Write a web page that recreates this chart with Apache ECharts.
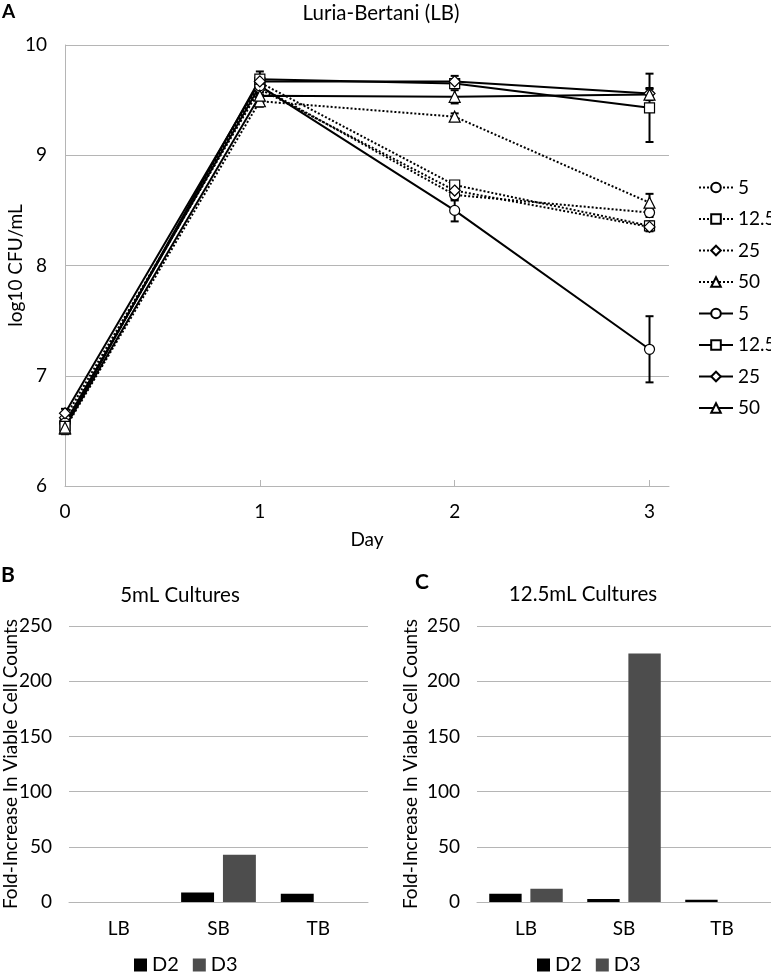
<!DOCTYPE html>
<html>
<head>
<meta charset="utf-8">
<script src="https://cdn.jsdelivr.net/npm/echarts@6/dist/echarts.min.js"></script>
<style>html,body{margin:0;padding:0;background:#fff}#c{width:771px;height:973px}</style>
</head>
<body>
<div id="c"></div>
<script>
// ---- Panel A data (log10 CFU/mL by day) ----
const days = [0, 1, 2, 3];
const dayTicks = ['0', '1', '2', '3'];
const dotted5 = [6.58, 9.62, 8.64, 8.48];
const dotted12_5 = [6.55, 9.66, 8.73, 8.36];
const dotted25 = [6.62, 9.60, 8.68, 8.35];
const dotted50 = [6.52, 9.49, 9.35, 8.57];
const solid5 = [6.57, 9.63, 8.50, 7.24];
const solid12_5 = [6.54, 9.69, 9.65, 9.43];
const solid25 = [6.66, 9.67, 9.67, 9.56];
const solid50 = [6.53, 9.54, 9.53, 9.55];
const dotted5Err = [0.04, 0.05, 0.05, 0.04];
const dotted12_5Err = [0.04, 0.05, 0.03, 0.04];
const dotted25Err = [0.04, 0.05, 0.04, 0.04];
const dotted50Err = [0.05, 0.05, 0.03, 0.08];
const solid5Err = [0.05, 0.05, 0.10, 0.30];
const solid12_5Err = [0.05, 0.07, 0.04, 0.31];
const solid25Err = [0.04, 0.05, 0.05, 0.05];
const solid50Err = [0.05, 0.05, 0.06, 0.05];
const legendLabels = ['5', '12.5', '25', '50'];

// ---- Panels B and C data (fold-increase) ----
const media = ['LB', 'SB', 'TB'];
const b_D2 = [0, 8.7, 7.5];
const b_D3 = [-1, 42.8, 0];
const c_D2 = [7.5, 2.7, 2];
const c_D3 = [12, 225, 0];

const FONT = 'Lato';
const GRID_C = '#b5b5b5';

const lineDefs = [
  {key: 'dotted|5', vals: dotted5, err: dotted5Err, sym: 'circle', type: 'dotted', size: 10},
  {key: 'dotted|12.5', vals: dotted12_5, err: dotted12_5Err, sym: 'rect', type: 'dotted', size: 10},
  {key: 'dotted|25', vals: dotted25, err: dotted25Err, sym: 'diamond', type: 'dotted', size: 11},
  {key: 'dotted|50', vals: dotted50, err: dotted50Err, sym: 'triangle', type: 'dotted', size: 11},
  {key: 'solid|5', vals: solid5, err: solid5Err, sym: 'circle', type: 'solid', size: 10},
  {key: 'solid|12.5', vals: solid12_5, err: solid12_5Err, sym: 'rect', type: 'solid', size: 10},
  {key: 'solid|25', vals: solid25, err: solid25Err, sym: 'diamond', type: 'solid', size: 11},
  {key: 'solid|50', vals: solid50, err: solid50Err, sym: 'triangle', type: 'solid', size: 11}
];

const series = [];
lineDefs.forEach(d => {
  series.push({
    type: 'custom', xAxisIndex: 0, yAxisIndex: 0, z: 1, silent: true,
    data: days.map((x, i) => [x, d.vals[i] - d.err[i], d.vals[i] + d.err[i]]),
    renderItem: (params, api) => {
      const x = api.value(0);
      const lo = api.coord([x, api.value(1)]);
      const hi = api.coord([x, api.value(2)]);
      const cap = 4;
      const st = {stroke: '#000', lineWidth: 2};
      return {type: 'group', children: [
        {type: 'line', shape: {x1: lo[0], y1: lo[1], x2: hi[0], y2: hi[1]}, style: st},
        {type: 'line', shape: {x1: lo[0] - cap, y1: lo[1], x2: lo[0] + cap, y2: lo[1]}, style: st},
        {type: 'line', shape: {x1: hi[0] - cap, y1: hi[1], x2: hi[0] + cap, y2: hi[1]}, style: st}
      ]};
    }
  });
});
lineDefs.forEach(d => {
  series.push({
    name: d.key, type: 'line', xAxisIndex: 0, yAxisIndex: 0, z: 3,
    data: days.map((x, i) => [x, d.vals[i]]),
    symbol: d.sym, symbolSize: d.size, showAllSymbol: true,
    lineStyle: {color: '#000', width: 2, type: d.type},
    itemStyle: {color: '#fff', borderColor: '#000', borderWidth: 1.2},
    emphasis: {disabled: true}
  });
});
series.push(
  {name: 'D2', type: 'bar', xAxisIndex: 1, yAxisIndex: 1, data: b_D2, itemStyle: {color: '#000'}, barGap: '27%', barCategoryGap: '25%'},
  {name: 'D3', type: 'bar', xAxisIndex: 1, yAxisIndex: 1, data: b_D3, itemStyle: {color: '#4d4d4d'}, barGap: '27%', barCategoryGap: '25%'},
  {name: 'D2', type: 'bar', xAxisIndex: 2, yAxisIndex: 2, data: c_D2, itemStyle: {color: '#000'}, barGap: '27%', barCategoryGap: '25%'},
  {name: 'D3', type: 'bar', xAxisIndex: 2, yAxisIndex: 2, data: c_D3, itemStyle: {color: '#4d4d4d'}, barGap: '27%', barCategoryGap: '25%'}
);

const txt = {fontFamily: FONT, color: '#000', fontSize: 19};
const nameTxt = {fontFamily: FONT, color: '#000', fontSize: 19};
const barYAxis = (gi, gap) => ({
  type: 'value', gridIndex: gi, min: 0, max: 250, interval: 50,
  axisLine: {show: false}, axisTick: {show: false},
  splitLine: {lineStyle: {color: GRID_C, width: 1}},
  axisLabel: Object.assign({margin: 17}, txt),
  name: 'Fold-Increase In Viable Cell Counts', nameLocation: 'middle', nameGap: gap,
  nameMoveOverlap: false,
  nameTextStyle: nameTxt
});
const barXAxis = gi => ({
  type: 'category', gridIndex: gi, data: media,
  axisLine: {lineStyle: {color: GRID_C, width: 1}}, axisTick: {show: false},
  axisLabel: Object.assign({margin: 17}, txt)
});
const boldTitle = sz => ({fontFamily: FONT, fontSize: sz, fontWeight: 'bold', color: '#000'});
const plainTitle = {fontFamily: FONT, fontSize: 20.5, fontWeight: 'normal', color: '#000'};

const option = {
  animation: false,
  backgroundColor: '#fff',
  textStyle: {fontFamily: FONT},
  title: [
    {text: 'A', left: 2, top: 2, padding: 0, textStyle: boldTitle(19)},
    {text: 'Luria-Bertani (LB)', left: 381, top: 3, padding: 0, textAlign: 'center', textStyle: plainTitle},
    {text: 'B', left: 1, top: 565, padding: 0, textStyle: boldTitle(21)},
    {text: '5mL Cultures', left: 180, top: 585, padding: 0, textAlign: 'center', textStyle: plainTitle},
    {text: 'C', left: 415, top: 572, padding: 0, textStyle: boldTitle(21)},
    {text: '12.5mL Cultures', left: 583, top: 584, padding: 0, textAlign: 'center', textStyle: plainTitle}
  ],
  legend: [
    {
      orient: 'vertical', left: 698, top: 178, padding: 0, itemWidth: 34, itemHeight: 12, itemGap: 12.5,
      data: lineDefs.map(d => d.key),
      formatter: n => n.split('|')[1],
      textStyle: Object.assign({}, txt, {fontSize: 19}),
      selectedMode: false
    },
    {
      left: 134, top: 955, padding: 0, itemWidth: 13, itemHeight: 13, itemGap: 14,
      data: [{name: 'D2', icon: 'rect'}, {name: 'D3', icon: 'rect'}],
      textStyle: Object.assign({}, txt, {fontSize: 20}), selectedMode: false
    },
    {
      left: 537, top: 955, padding: 0, itemWidth: 13, itemHeight: 13, itemGap: 14,
      data: [{name: 'D2', icon: 'rect'}, {name: 'D3', icon: 'rect'}],
      textStyle: Object.assign({}, txt, {fontSize: 20}), selectedMode: false
    }
  ],
  grid: [
    {left: 65, top: 45, width: 604, height: 441, containLabel: false, outerBoundsMode: 'none'},
    {left: 69, top: 626, width: 299, height: 276, containLabel: false, outerBoundsMode: 'none'},
    {left: 477, top: 626, width: 294, height: 276, containLabel: false, outerBoundsMode: 'none'}
  ],
  xAxis: [
    {
      type: 'value', gridIndex: 0, min: 0, max: 3.1, interval: 1,
      axisLine: {lineStyle: {color: GRID_C, width: 1}},
      axisTick: {show: true, inside: true, length: 6, lineStyle: {color: GRID_C}},
      splitLine: {show: false},
      axisLabel: Object.assign({margin: 16, formatter: v => (Number.isInteger(v) ? dayTicks[v] : ''), showMaxLabel: false}, txt),
      name: 'Day', nameLocation: 'middle', nameGap: 44,
      nameTextStyle: nameTxt
    },
    barXAxis(1),
    barXAxis(2)
  ],
  yAxis: [
    {
      type: 'value', gridIndex: 0, min: 6, max: 10, interval: 1,
      axisLine: {show: true, lineStyle: {color: GRID_C, width: 1}}, axisTick: {show: false},
      splitLine: {lineStyle: {color: GRID_C, width: 1}},
      axisLabel: Object.assign({margin: 18}, txt),
      name: 'log10 CFU/mL', nameLocation: 'middle', nameGap: 40, nameMoveOverlap: false,
      nameTextStyle: nameTxt
    },
    barYAxis(1, 49),
    barYAxis(2, 57)
  ],
  series: series
};

const chart = echarts.init(document.getElementById('c'), null, {renderer: 'canvas'});
chart.setOption(option);
</script>
</body>
</html>
